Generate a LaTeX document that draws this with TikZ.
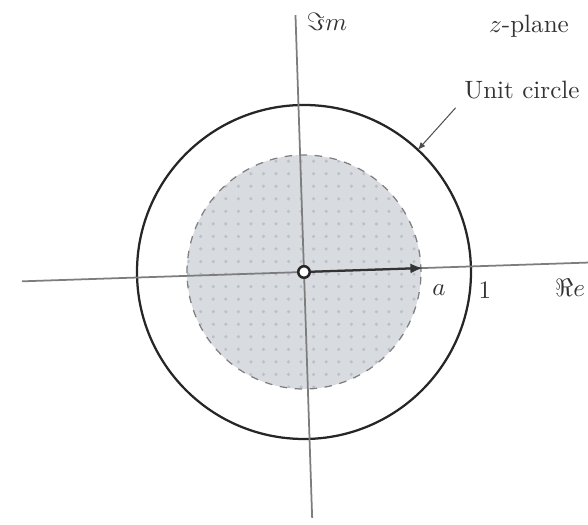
\documentclass[tikz,border=0pt]{standalone}
\usepackage{amsmath, amssymb}
\usepackage{xcolor}
\usetikzlibrary{arrows.meta, positioning, calc, patterns.meta}

\definecolor{diskgray}{RGB}{216,220,224}
\definecolor{dotgray}{RGB}{186,193,200}
\definecolor{axisgray}{RGB}{125,125,125}

\begin{document}
\begin{tikzpicture}[
    x=0.014cm, y=0.014cm,
    >=Latex,
    axis/.style={draw=axisgray, line width=0.7pt},
    unitcirc/.style={draw=black!85, line width=0.9pt},
    diskedge/.style={draw=gray, dashed, line width=0.5pt},
    lbl/.style={font=\normalsize, text=black!80},
    leader/.style={draw=black!70, line width=0.4pt, -{Latex[length=3pt, width=2.5pt]}}
]
\useasboundingbox (-304,-253) rectangle (284,272);

% shaded region |z| < a
\fill[diskgray] (0,0) circle (117);
\fill[pattern={Dots[distance=5pt, radius=0.7pt]}, pattern color=dotgray] (0,0) circle (117);
\draw[diskedge] (0,0) circle (117);

% unit circle
\draw[unitcirc] (0,0) circle (167);
\coordinate (oncirc) at (47:167);

% axes (scan is tilted a little)
\begin{scope}[rotate=1.9]
\coordinate (west) at (-282,0);
\coordinate (east) at (300,0);
\coordinate (south) at (0,-246);
\coordinate (north) at (0,257);
\coordinate (tip) at (119,0);
\end{scope}
\draw[axis] (west) -- (east);
\draw[axis] (south) -- (north);

\node[circle, draw=black!85, line width=1pt, fill=white, inner sep=0pt, minimum size=4.6pt] (origin) at (0,0) {};
\draw[-{Latex[length=5pt, width=4pt]}, line width=0.9pt, black!80] (origin) -- (tip);

% labels
\node[lbl] (a) at (135,-18) {$a$};
\node[lbl] (one) at (181,-18) {$1$};
\node[lbl, anchor=east, inner sep=1pt] (re) at (284,-16) {$\Re e$};
\node[lbl] (im) at (23,250) {$\Im m$};
\node[lbl] (zplane) at (225,246) {$z$-plane};
\node[lbl] (unit) at (218,182) {Unit circle};

\draw[leader] (unit.south west) -- (oncirc);

\end{tikzpicture}
\end{document}
